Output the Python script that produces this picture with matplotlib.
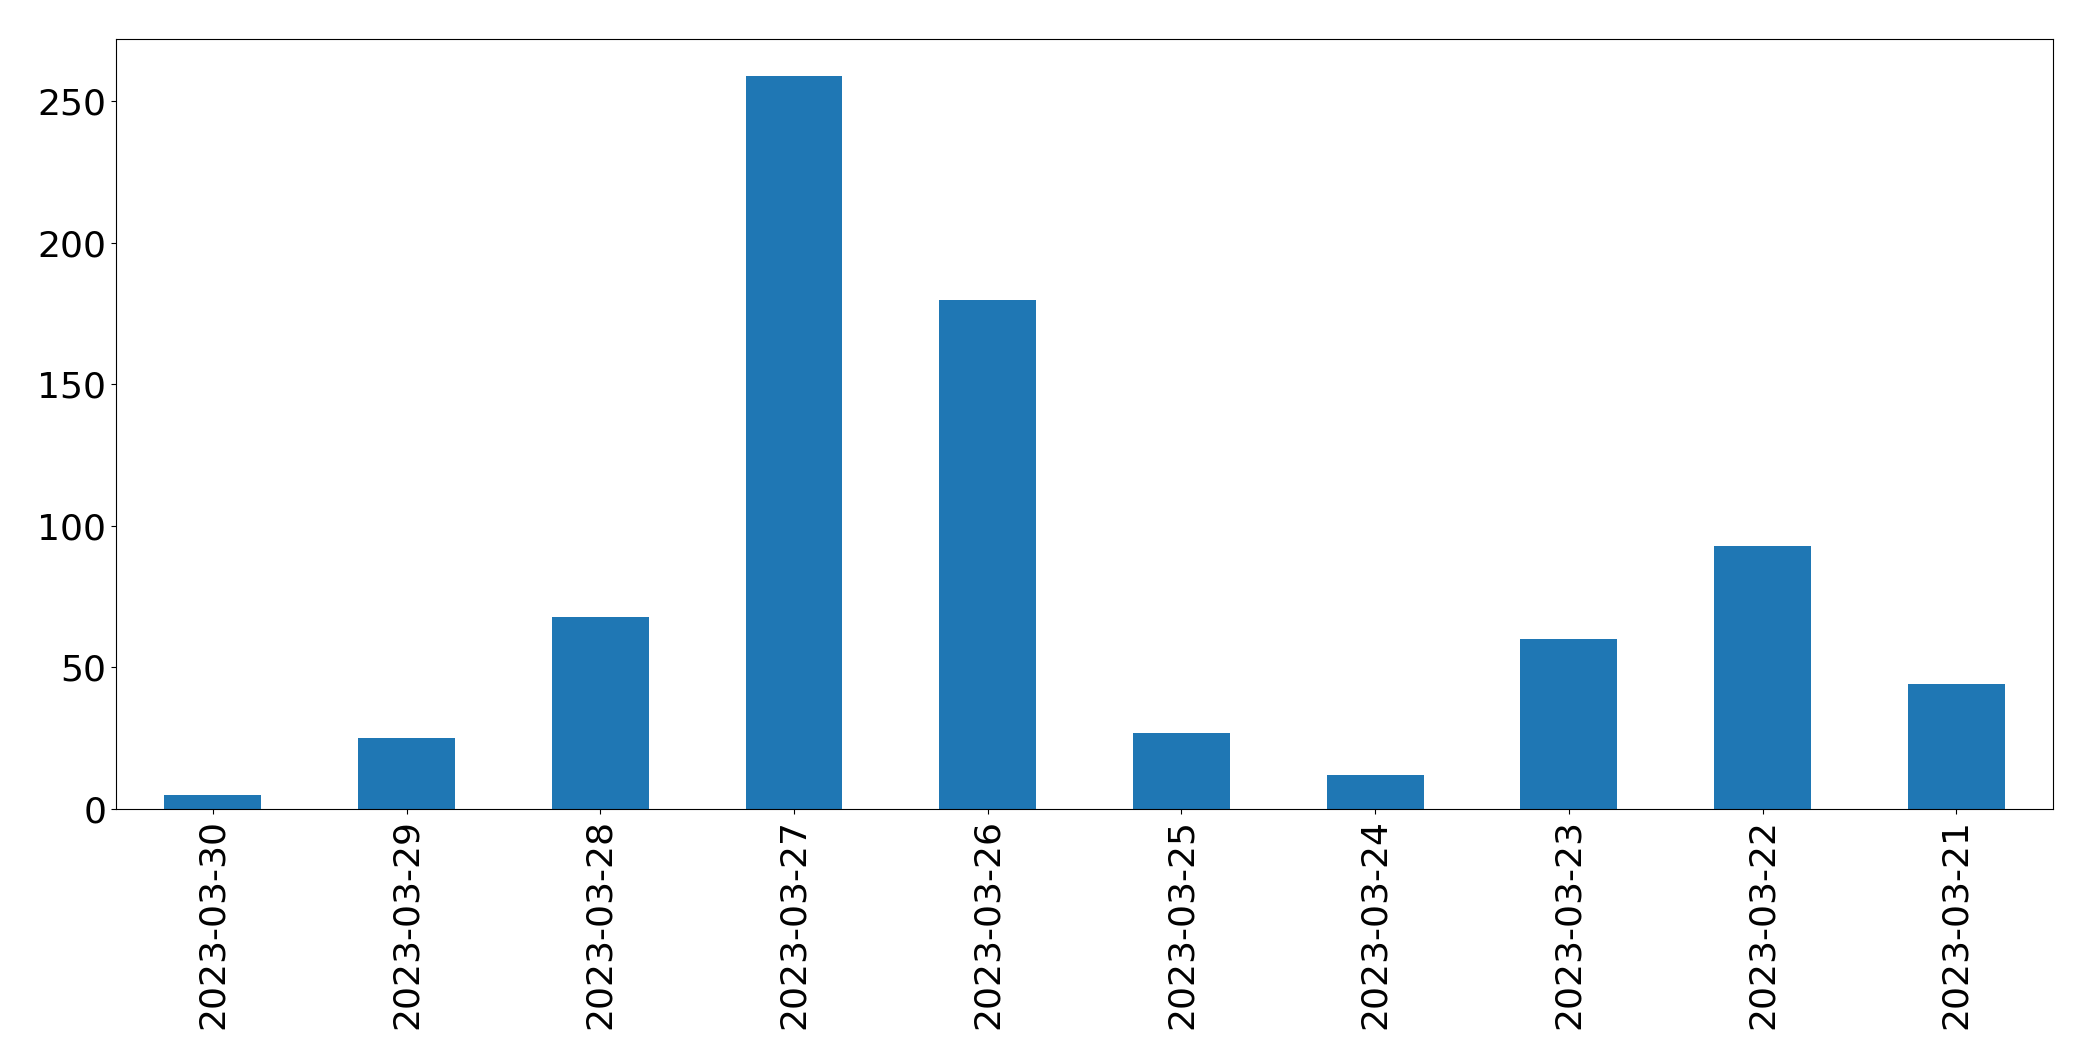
import matplotlib
matplotlib.use('Agg')
import matplotlib.pyplot as plt
import numpy as np

# daily counts, newest first
dates = ['2023-03-30', '2023-03-29', '2023-03-28', '2023-03-27', '2023-03-26',
         '2023-03-25', '2023-03-24', '2023-03-23', '2023-03-22', '2023-03-21']
counts = [5, 25, 68, 259, 180, 27, 12, 60, 93, 44]

fig = plt.figure(figsize=(20.93, 10.61), dpi=100)
ax = fig.add_subplot(111)
fig.subplots_adjust(left=0.0554, right=0.981, top=0.963, bottom=0.2375)

x = np.arange(len(dates))
ax.bar(x, counts, width=0.5, color='#1f77b4')
ax.set_xlim(-0.5, len(dates) - 0.5)
ax.set_xticks(x)
ax.set_xticklabels(dates, rotation=90)
ax.tick_params(axis='both', labelsize=26)

plt.savefig('out.png', dpi=100)
